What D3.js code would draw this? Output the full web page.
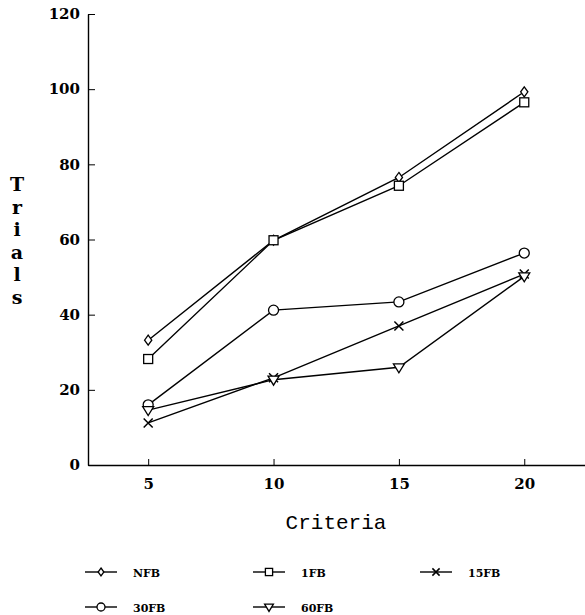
<!DOCTYPE html>
<html>
<head>
<meta charset="utf-8">
<script src="https://cdn.jsdelivr.net/npm/d3@7"></script>
<style>
  body { margin: 0; background: #fff; }
  svg text { fill: #000; }
</style>
</head>
<body>
<div id="chart"></div>
<script>
// criteria on the x axis
const criteria = [5, 10, 15, 20];
const xTicks = [5, 10, 15, 20];
const yTicks = [0, 20, 40, 60, 80, 100, 120];

// trials per condition
const nfb = [33.2, 59.8, 76.5, 99.3];
const fb1 = [28.2, 59.8, 74.3, 96.5];
const fb15 = [11.2, 23.2, 37.0, 50.8];
const fb30 = [16.0, 41.2, 43.4, 56.4];
const fb60 = [14.6, 22.7, 26.0, 50.2];

const seriesNames = ["NFB", "1FB", "15FB", "30FB", "60FB"];
const seriesValues = [nfb, fb1, fb15, fb30, fb60];
const seriesSymbols = ["diamond", "square", "cross", "circle", "triangle"];

const width = 585, height = 615;

const svg = d3.select("#chart").append("svg")
  .attr("width", width)
  .attr("height", height);

// Scales
const x = d3.scaleLinear().domain([2.6, 23.3]).range([88, 607]);
const y = d3.scaleLinear().domain([0, 120]).range([465, 14]);

// X axis
const xAxis = d3.axisBottom(x)
  .tickValues(xTicks)
  .tickSizeInner(-6)
  .tickSizeOuter(0)
  .tickPadding(13);

svg.append("g")
  .attr("transform", `translate(0, ${y(0)})`)
  .call(xAxis)
  .call(g => g.select(".domain").attr("stroke-width", 1.6))
  .call(g => g.selectAll("text")
    .attr("font-family", "DejaVu Serif")
    .attr("font-weight", "bold")
    .attr("font-size", 15));

// Y axis
const yAxis = d3.axisLeft(y)
  .tickValues(yTicks)
  .tickSizeInner(-7)
  .tickSizeOuter(0)
  .tickPadding(8);

svg.append("g")
  .attr("transform", `translate(${x.range()[0]}, 0)`)
  .call(yAxis)
  .call(g => g.select(".domain").attr("stroke-width", 1.4))
  .call(g => g.selectAll("text")
    .attr("font-family", "DejaVu Serif")
    .attr("font-weight", "bold")
    .attr("font-size", 15));

// Axis titles
svg.append("text")
  .attr("x", 336)
  .attr("y", 529)
  .attr("text-anchor", "middle")
  .attr("font-family", "Liberation Mono")
  .attr("font-size", 21)
  .text("Criteria");

const yLabel = "Trials".split("");
svg.append("g")
  .selectAll("text")
  .data(yLabel)
  .enter()
  .append("text")
  .attr("x", 17)
  .attr("y", (d, i) => 191 + i * 22.6)
  .attr("text-anchor", "middle")
  .attr("font-family", "DejaVu Serif")
  .attr("font-weight", "bold")
  .attr("font-size", 19)
  .text(d => d);

// Marker drawing helper
function drawMarker(g, type, cx, cy, k) {
  k = k || 1;
  const sw = 1.3;
  if (type === "diamond") {
    const s = 5 * k, w = 3.6 * k;
    g.append("path")
      .attr("d", `M${cx},${cy - s} L${cx + w},${cy} L${cx},${cy + s} L${cx - w},${cy} Z`)
      .attr("fill", "#fff").attr("stroke", "#000").attr("stroke-width", sw);
  } else if (type === "square") {
    const s = 4.5 * k;
    g.append("rect")
      .attr("x", cx - s).attr("y", cy - s)
      .attr("width", 2 * s).attr("height", 2 * s)
      .attr("fill", "#fff").attr("stroke", "#000").attr("stroke-width", sw);
  } else if (type === "circle") {
    g.append("circle")
      .attr("cx", cx).attr("cy", cy).attr("r", 5 * k)
      .attr("fill", "#fff").attr("stroke", "#000").attr("stroke-width", sw);
  } else if (type === "triangle") {
    const s = 5.5 * k;
    g.append("path")
      .attr("d", `M${cx - s},${cy - 3.5 * k} L${cx + s},${cy - 3.5 * k} L${cx},${cy + s} Z`)
      .attr("fill", "#fff").attr("stroke", "#000").attr("stroke-width", sw);
  } else if (type === "cross") {
    const s = 4.5 * k;
    g.append("path")
      .attr("d", `M${cx - s},${cy - s} L${cx + s},${cy + s} M${cx - s},${cy + s} L${cx + s},${cy - s}`)
      .attr("fill", "none").attr("stroke", "#000").attr("stroke-width", 1.5);
  }
}

// Lines
const line = d3.line()
  .x((d, i) => x(criteria[i]))
  .y(d => y(d));

const plot = svg.append("g");
seriesValues.forEach(vals => {
  plot.append("path")
    .datum(vals)
    .attr("d", line)
    .attr("fill", "none")
    .attr("stroke", "#000")
    .attr("stroke-width", 1.4);
});
seriesValues.forEach((vals, si) => {
  const mg = plot.append("g");
  vals.forEach((v, i) => drawMarker(mg, seriesSymbols[si], x(criteria[i]), y(v)));
});

// Legend
const legendPos = [
  { x: 85, y: 572 }, { x: 253, y: 572 }, { x: 420, y: 572 },
  { x: 85, y: 607 }, { x: 253, y: 607 }
];
const legend = svg.append("g");
seriesNames.forEach((name, i) => {
  const p = legendPos[i];
  const lg = legend.append("g");
  lg.append("line")
    .attr("x1", p.x).attr("x2", p.x + 32)
    .attr("y1", p.y).attr("y2", p.y)
    .attr("stroke", "#000").attr("stroke-width", 1.4);
  drawMarker(lg, seriesSymbols[i], p.x + 16, p.y, 0.8);
  lg.append("text")
    .attr("x", p.x + 48)
    .attr("y", p.y + 5)
    .attr("font-family", "DejaVu Serif")
    .attr("font-weight", "bold")
    .attr("font-size", 11)
    .text(name);
});
</script>
</body>
</html>
